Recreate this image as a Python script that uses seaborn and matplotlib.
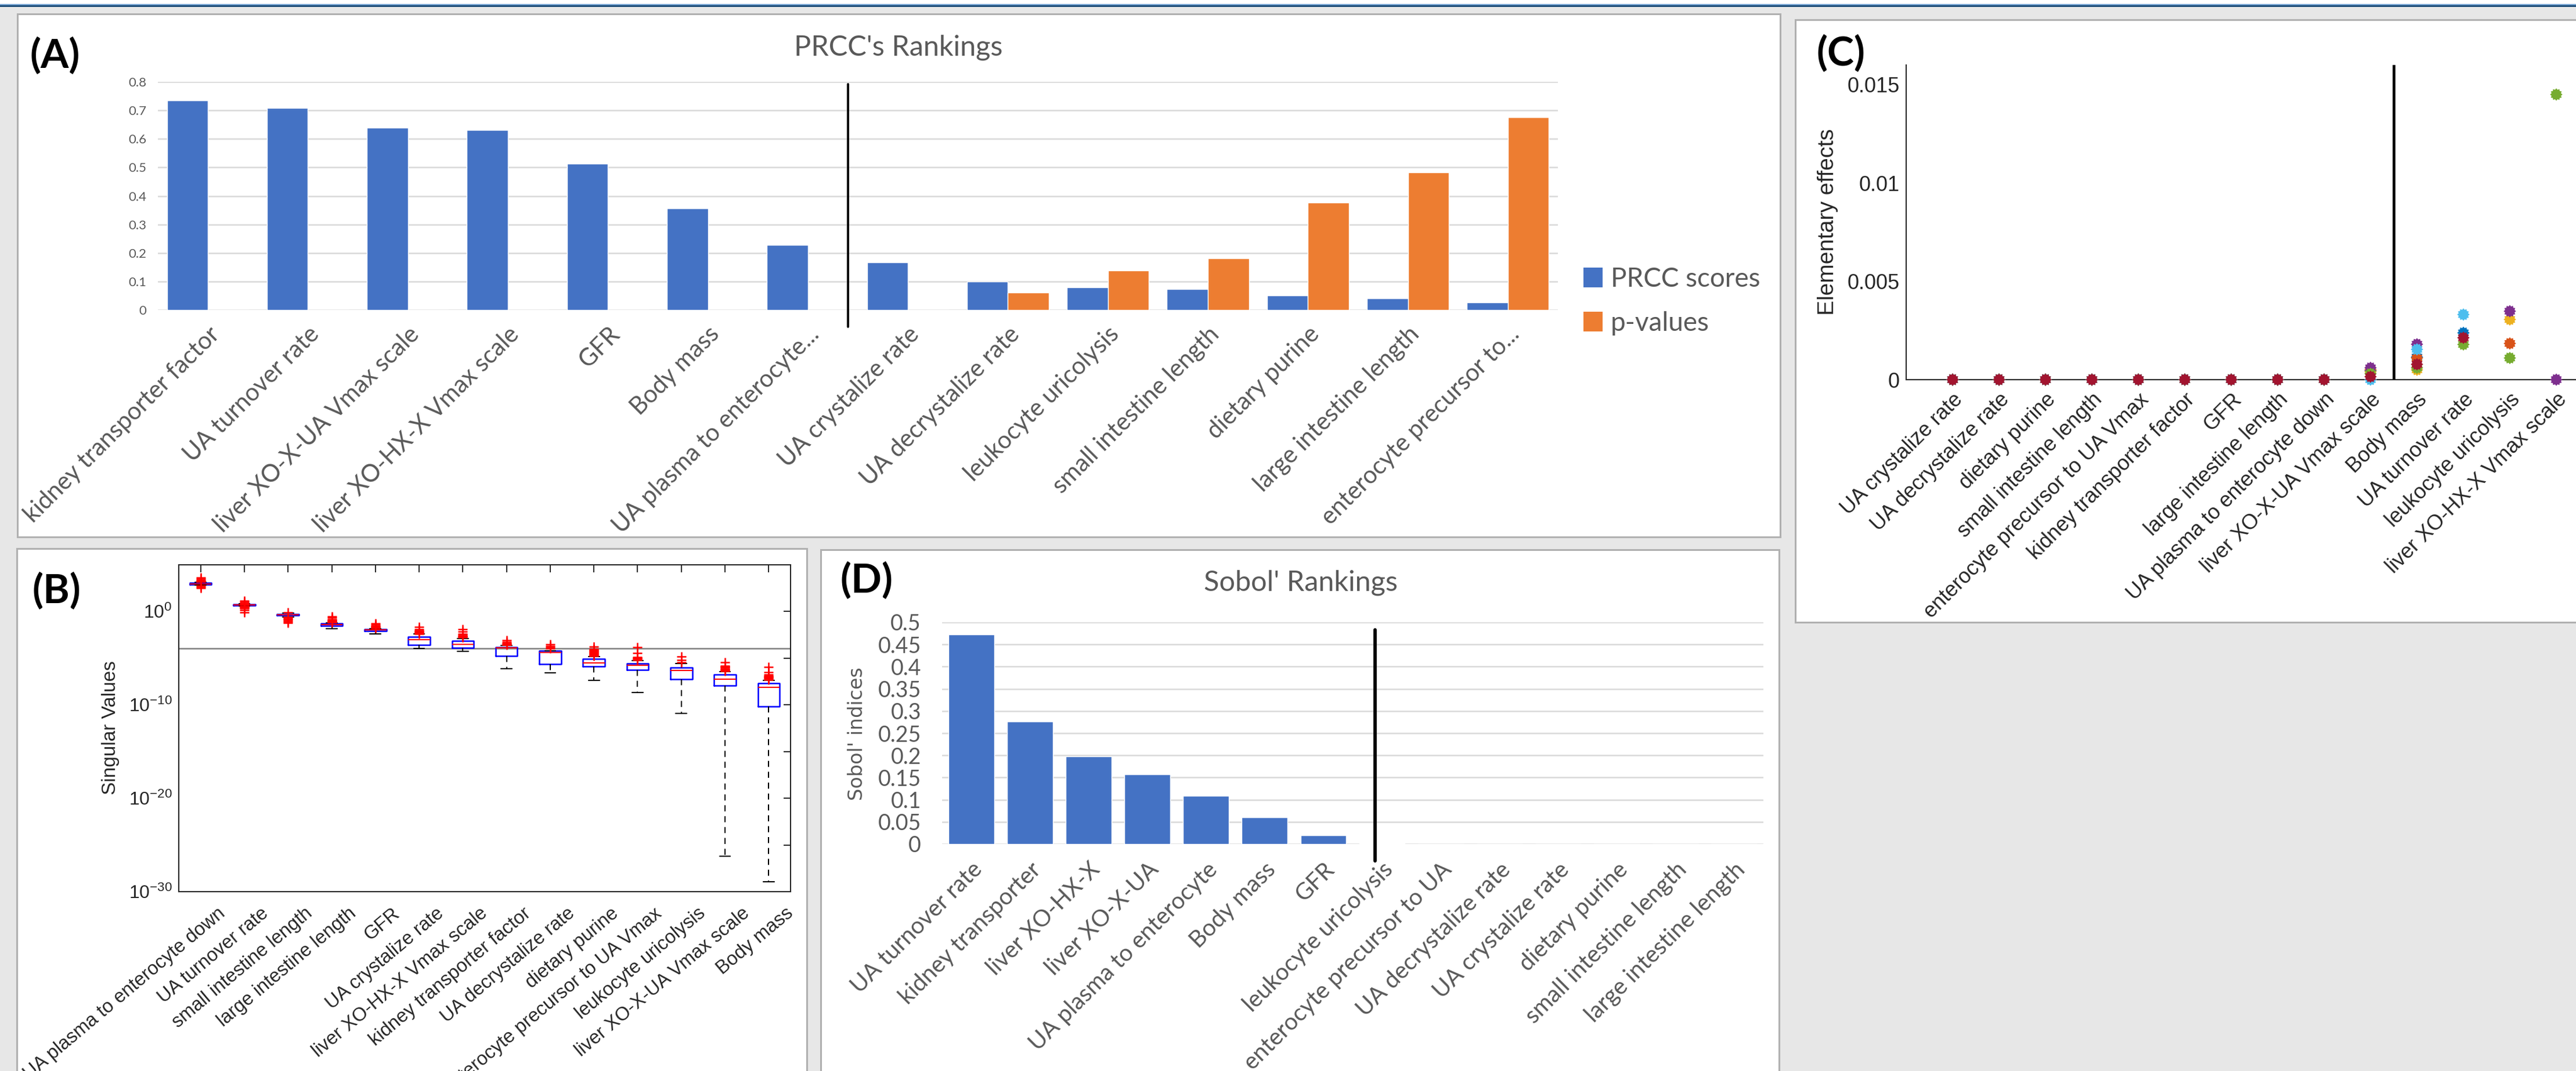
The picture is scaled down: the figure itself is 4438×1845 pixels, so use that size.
import numpy as np
import pandas as pd
import matplotlib
matplotlib.use("Agg")
import matplotlib.pyplot as plt
from matplotlib.patches import Rectangle, Patch
from matplotlib.path import Path
from matplotlib.ticker import NullLocator
from matplotlib.transforms import ScaledTranslation
import seaborn as sns

# ---------------- data ----------------
# (A) PRCC rankings
prcc_params = ["kidney transporter factor", "UA turnover rate", "liver XO-X-UA Vmax scale",
               "liver XO-HX-X Vmax scale", "GFR", "Body mass", "UA plasma to enterocyte...",
               "UA crystalize rate", "UA decrystalize rate", "leukocyte uricolysis",
               "small intestine length", "dietary purine", "large intestine length",
               "enterocyte precursor to..."]
prcc_scores = [0.735, 0.709, 0.640, 0.632, 0.512, 0.356, 0.227, 0.167,
               0.099, 0.080, 0.0725, 0.051, 0.041, 0.027]
prcc_pvalues = [0, 0, 0, 0, 0, 0, 0, 0, 0.062, 0.138, 0.182, 0.377, 0.482, 0.676]
prcc_ticks = [0, 0.1, 0.2, 0.3, 0.4, 0.5, 0.6, 0.7, 0.8]
prcc_ticklabels = ["0", "0.1", "0.2", "0.3", "0.4", "0.5", "0.6", "0.7", "0.8"]
prcc_split = 6.4

# (B) singular values (log10 of box statistics)
svd_params = ["UA plasma to enterocyte down", "UA turnover rate", "small intestine length",
              "large intestine length", "GFR", "UA crystalize rate", "liver XO-HX-X Vmax scale",
              "kidney transporter factor", "UA decrystalize rate", "dietary purine",
              "enterocyte precursor to UA Vmax", "leukocyte uricolysis",
              "liver XO-X-UA Vmax scale", "Body mass"]
svd_whislo = [2.78, 0.58, -0.6, -1.84, -2.4, -3.95, -4.3, -6.13, -6.58, -7.37, -8.71, -10.95, -26.2, -28.96]
svd_q1 = [2.86, 0.6, -0.43, -1.57, -2.09, -3.58, -3.9, -4.8, -5.67, -5.92, -6.25, -7.27, -7.95, -10.2]
svd_med = [2.95, 0.69, -0.37, -1.42, -1.98, -3.06, -3.54, -3.9, -4.41, -5.55, -5.76, -6.33, -7.27, -8.14]
svd_q3 = [3.06, 0.76, -0.33, -1.3, -1.9, -2.71, -3.17, -3.83, -4.22, -5.11, -5.57, -6.02, -6.79, -7.68]
svd_whishi = [3.1, 0.78, -0.2, -1.26, -1.88, -2.45, -2.9, -3.64, -4.2, -4.85, -5.25, -5.6, -6.45, -7.37]
svd_fliers = [
    [3.14, 3.18, 3.22, 3.26, 3.35, 3.45, 3.6, 2.72, 2.62, 2.5],
    [0.82, 0.9, 1.0, 1.12, 0.55, 0.5, 0.45, 0.4, 0.3, 0.15, -0.12],
    [-0.15, -0.65, -0.7, -0.8, -0.9, -1.0, -1.1, -1.22],
    [-1.2, -1.15, -1.1, -1.05, -1.0, -0.95, -0.85, -0.7, -0.54],
    [-1.82, -1.76, -1.7, -1.64, -1.55, -1.45, -1.3],
    [-2.42, -2.37, -2.32, -2.27, -2.22, -2.17, -2.1, -2.02, -1.9, -1.68],
    [-2.82, -2.76, -2.7, -2.64, -2.58, -2.5, -2.4, -2.2, -1.95],
    [-3.58, -3.52, -3.46, -3.4, -3.3, -3.1],
    [-3.95, -3.85, -3.7, -3.53],
    [-4.78, -4.72, -4.66, -4.6, -4.54, -4.48, -4.42, -4.36, -4.3, -4.24, -4.18, -4.12, -4.05, -3.79],
    [-5.2, -5.12, -5.04, -4.96, -4.9, -4.47, -3.88],
    [-5.45, -5.2, -4.85],
    [-6.4, -6.33, -6.26, -6.19, -6.12, -6.05, -5.98, -5.9, -5.82, -5.44],
    [-7.3, -7.23, -7.16, -7.09, -7.02, -6.95, -6.88, -6.8, -6.5, -5.98],
]
svd_threshold_exp = -4
svd_tick_exps = [-30, -25, -20, -15, -10, -5, 0]

# (C) elementary effects, one series per trajectory (NaN = no point)
ee_params = ["UA crystalize rate", "UA decrystalize rate", "dietary purine", "small intestine length",
             "enterocyte precursor to UA Vmax", "kidney transporter factor", "GFR",
             "large intestine length", "UA plasma to enterocyte down", "liver XO-X-UA Vmax scale",
             "Body mass", "UA turnover rate", "leukocyte uricolysis", "liver XO-HX-X Vmax scale"]
nan = np.nan
ee_traj1 = [0, 0, 0, 0, 0, 0, 0, 0, 0, 0.00045, 0.00115, 0.00238, nan, nan]
ee_traj2 = [0, 0, 0, 0, 0, 0, 0, 0, 0, 0.0005, 0.0011, nan, 0.00184, nan]
ee_traj3 = [0, 0, 0, 0, 0, 0, 0, 0, 0, 0.0004, 0.0005, nan, 0.00306, nan]
ee_traj4 = [0, 0, 0, 0, 0, 0, 0, 0, 0, 0.0006, 0.0018, nan, 0.00348, 0.0]
ee_traj5 = [0, 0, 0, 0, 0, 0, 0, 0, 0, 0.0003, 0.0006, 0.00179, 0.0011, 0.0145]
ee_traj6 = [0, 0, 0, 0, 0, 0, 0, 0, 0, 0.0, 0.00154, 0.00331, nan, nan]
ee_traj7 = [0, 0, 0, 0, 0, 0, 0, 0, 0, 0.00015, 0.00078, 0.00213, nan, nan]
ee_ticks = [0, 0.005, 0.01, 0.015]
ee_ticklabels = ["0", "0.005", "0.01", "0.015"]
ee_split = 10.5

# (D) Sobol' rankings
sobol_params = ["UA turnover rate", "kidney transporter", "liver XO-HX-X", "liver XO-X-UA",
                "UA plasma to enterocyte", "Body mass", "GFR", "leukocyte uricolysis",
                "enterocyte precursor to UA", "UA decrystalize rate", "UA crystalize rate",
                "dietary purine", "small intestine length", "large intestine length"]
sobol_indices = [0.472, 0.276, 0.197, 0.1565, 0.109, 0.060, 0.020, 0.0015, 0, 0, 0, 0, 0, 0]
sobol_ticks = [0, 0.05, 0.1, 0.15, 0.2, 0.25, 0.3, 0.35, 0.4, 0.45, 0.5]
sobol_ticklabels = ["0", "0.05", "0.1", "0.15", "0.2", "0.25", "0.3", "0.35", "0.4", "0.45", "0.5"]
sobol_split = 6.88

# ---------------- style ----------------
sns.set_theme(style="white")
plt.rcParams["font.family"] = ["Liberation Sans", "DejaVu Sans"]
plt.rcParams["mathtext.fontset"] = "custom"
plt.rcParams["mathtext.rm"] = "Liberation Sans"
plt.rcParams["mathtext.default"] = "regular"

XL_BLUE, XL_ORANGE, XL_TEXT = "#4472C4", "#ED7D31", "#595959"
ML_TEXT = "#262626"
ML_COLORS = ["#0072BD", "#D95319", "#EDB120", "#7E2F8E", "#77AC30", "#4DBEEE", "#A2142F"]
EXCEL_FONT = ["Lato", "DejaVu Sans"]

W, H, DPI = 4438, 1845, 100
fig = plt.figure(figsize=(W / DPI, H / DPI), dpi=DPI, facecolor="#e7e7e7")


def frac_rect(l, t, r, b):
    return [l / W, 1 - b / H, (r - l) / W, (b - t) / H]


def fig_rect(l, t, r, b, **kw):
    x, y, w, h = frac_rect(l, t, r, b)
    fig.add_artist(Rectangle((x, y), w, h, transform=fig.transFigure, **kw))


def fig_text(x, y, s, **kw):
    fig.text(x / W, 1 - y / H, s, **kw)


# window header strip and panel frames
fig_rect(0, 0, W, 8, facecolor="white", edgecolor="none", zorder=-2)
fig_rect(0, 7, W, 8.5, facecolor="#6f9fd0", edgecolor="none", zorder=-2)
fig_rect(0, 8.5, W, 11.5, facecolor="#1f4e79", edgecolor="none", zorder=-2)
frame = dict(facecolor="white", edgecolor="#b0b0b0", linewidth=2.2, zorder=-1)
fig_rect(30, 24, 3067, 925, **frame)        # A
fig_rect(29, 945, 1390, 1900, **frame)      # B
fig_rect(3093, 34, 4500, 1072, **frame)     # C
fig_rect(1414, 947, 3065, 1900, **frame)    # D

panel_font = dict(fontsize=50, fontweight="bold", family=EXCEL_FONT, color="black",
                  ha="left", va="center")
fig_text(52, 96, "(A)", **panel_font)
fig_text(56, 1018, "(B)", **panel_font)
fig_text(3130, 93, "(C)", **panel_font)
fig_text(1448, 1000, "(D)", **panel_font)


def excel_axes(ax):
    ax.set_facecolor("none")
    for s in ax.spines.values():
        s.set_visible(False)
    ax.yaxis.grid(True, color="#d9d9d9", linewidth=1.8)
    ax.xaxis.grid(False)
    ax.set_axisbelow(True)
    ax.tick_params(length=0)
    ax.set_xlabel("")
    ax.set_ylabel("")


# ---------------- (A) PRCC ----------------
axA = fig.add_axes(frac_rect(272, 141, 2684, 534))
dfA = pd.DataFrame({
    "param": prcc_params * 2,
    "value": prcc_scores + prcc_pvalues,
    "measure": ["PRCC scores"] * len(prcc_params) + ["p-values"] * len(prcc_params),
})
sns.barplot(data=dfA, x="param", y="value", hue="measure", palette=[XL_BLUE, XL_ORANGE],
            saturation=1, width=0.82, ax=axA, legend=False, errorbar=None)
excel_axes(axA)
axA.set_xlim(-0.5, len(prcc_params) - 0.5)
axA.set_ylim(0, 0.8)
axA.set_yticks(prcc_ticks)
axA.set_yticklabels(prcc_ticklabels, fontsize=16, color=XL_TEXT, family=EXCEL_FONT)
axA.set_xticks(range(len(prcc_params)))
axA.set_xticklabels(prcc_params, rotation=45, ha="right", rotation_mode="anchor",
                    fontsize=30, color=XL_TEXT, family=EXCEL_FONT)
axA.tick_params(axis="x", pad=16)
axA.tick_params(axis="y", pad=14)
axA.plot([prcc_split, prcc_split], [-0.059, 0.792], color="black", lw=2.8,
         clip_on=False, zorder=5)
fig_text(1548, 95, "PRCC's Rankings", fontsize=35, color=XL_TEXT, family=EXCEL_FONT,
         ha="center", va="baseline")
axA.legend(handles=[Patch(facecolor=XL_BLUE, edgecolor="none"),
                    Patch(facecolor=XL_ORANGE, edgecolor="none")],
           labels=["PRCC scores", "p-values"], loc="center left",
           bbox_to_anchor=(2728 / W, 1 - 519 / H), bbox_transform=fig.transFigure,
           frameon=False, prop={"family": EXCEL_FONT, "size": 33},
           labelcolor=XL_TEXT, handlelength=0.72, handleheight=0.76,
           handletextpad=0.3, labelspacing=0.75, borderpad=0, borderaxespad=0)

# ---------------- (B) singular values ----------------
axB = fig.add_axes(frac_rect(308, 972.5, 1362, 1536))
axB.set_facecolor("none")
stats = []
for i in range(len(svd_params)):
    stats.append({
        "whislo": 10.0 ** svd_whislo[i], "q1": 10.0 ** svd_q1[i], "med": 10.0 ** svd_med[i],
        "q3": 10.0 ** svd_q3[i], "whishi": 10.0 ** svd_whishi[i],
        "fliers": 10.0 ** np.array(svd_fliers[i]),
    })
positions = np.arange(1, len(svd_params) + 1)
axB.set_yscale("log")
axB.bxp(stats, positions=positions, widths=0.5, showfliers=True,
        boxprops=dict(color="#0000ff", linewidth=1.8),
        medianprops=dict(color="#ff0000", linewidth=1.5),
        whiskerprops=dict(color="black", linewidth=1.5, linestyle=(0, (5, 4))),
        capprops=dict(color="black", linewidth=1.5),
        flierprops=dict(marker="+", markeredgecolor="#ff0000", markersize=12,
                        markeredgewidth=1.8, linestyle="none"))
axB.axhline(10.0 ** svd_threshold_exp, color="#808080", lw=1.8, zorder=0.5)
axB.set_ylim(1e-30, 1e5)
axB.set_xlim(0.5, len(svd_params) + 0.5)
axB.yaxis.set_minor_locator(NullLocator())
axB.set_yticks([10.0 ** k for k in svd_tick_exps])
axB.set_yticklabels([r"$10^{%d}$" % k if k % 10 == 0 else "" for k in svd_tick_exps],
                    fontsize=23, color=ML_TEXT)
axB.set_xticks(positions)
axB.set_xticklabels([])
# category names sit just right of and below each tick, rotated 40 degrees
b_offset = axB.get_xaxis_transform() + ScaledTranslation(28 / DPI, -22 / DPI, fig.dpi_scale_trans)
for pos, name in zip(positions, svd_params):
    axB.text(pos, 0, name, transform=b_offset, rotation=40, ha="right", va="top",
             rotation_mode="anchor", fontsize=23.5, color=ML_TEXT, clip_on=False)
axB.tick_params(axis="both", which="both", direction="in", top=True, right=True,
                length=9, width=1.4, color=ML_TEXT)
axB.tick_params(axis="y", pad=8)
for s in axB.spines.values():
    s.set_color(ML_TEXT)
    s.set_linewidth(1.5)
fig_text(190, 1254, "Singular Values", fontsize=24, color=ML_TEXT, rotation=90,
         ha="center", va="center")

# ---------------- (C) elementary effects ----------------
axC = fig.add_axes(frac_rect(3284, 112, 4484, 654))
axC.set_facecolor("none")
traj_values = [ee_traj1, ee_traj2, ee_traj3, ee_traj4, ee_traj5, ee_traj6, ee_traj7]
dfC = pd.DataFrame({
    "pos": np.tile(np.arange(1, len(ee_params) + 1), len(traj_values)),
    "ee": np.concatenate([np.asarray(v, dtype=float) for v in traj_values]),
    "traj": np.repeat([f"r{k + 1}" for k in range(len(traj_values))], len(ee_params)),
}).dropna()
blob = Path.unit_regular_star(12, innerCircle=0.78)
sns.scatterplot(data=dfC, x="pos", y="ee", hue="traj", palette=ML_COLORS, marker=blob,
                s=240, linewidth=0, legend=False, ax=axC, clip_on=False, zorder=3)
axC.set_xlim(0, len(ee_params) + 1)
axC.set_ylim(0, 0.016)
axC.plot([ee_split, ee_split], [0, 0.016], color="black", lw=3.4, zorder=4)
for side in ("top", "right"):
    axC.spines[side].set_visible(False)
for side in ("left", "bottom"):
    axC.spines[side].set_color(ML_TEXT)
    axC.spines[side].set_linewidth(1.5)
axC.set_yticks(ee_ticks)
axC.set_yticklabels(ee_ticklabels, fontsize=26, color=ML_TEXT)
axC.set_xticks(np.arange(1, len(ee_params) + 1))
axC.set_xticklabels(ee_params, rotation=45, ha="right", rotation_mode="anchor",
                    fontsize=26, color=ML_TEXT)
axC.tick_params(axis="both", direction="in", length=10, width=1.4, color=ML_TEXT)
axC.tick_params(axis="x", pad=12)
axC.tick_params(axis="y", pad=8)
axC.set_xlabel("")
axC.set_ylabel("")
fig_text(3149, 382, "Elementary effects", fontsize=28, color=ML_TEXT, rotation=90,
         ha="center", va="center")

# ---------------- (D) Sobol' ----------------
axD = fig.add_axes(frac_rect(1623, 1072, 3038, 1454))
dfD = pd.DataFrame({"param": sobol_params, "index": sobol_indices})
sns.barplot(data=dfD, x="param", y="index", color=XL_BLUE, saturation=1, width=0.78,
            ax=axD, errorbar=None)
excel_axes(axD)
axD.set_xlim(-0.5, len(sobol_params) - 0.5)
axD.set_ylim(0, 0.5)
axD.set_yticks(sobol_ticks)
axD.set_yticklabels(sobol_ticklabels, fontsize=27, color=XL_TEXT, family=EXCEL_FONT)
axD.set_xticks(range(len(sobol_params)))
axD.set_xticklabels(sobol_params, rotation=45, ha="right", rotation_mode="anchor",
                    fontsize=29, color=XL_TEXT, family=EXCEL_FONT)
axD.tick_params(axis="x", pad=18)
axD.tick_params(axis="y", pad=26)
axD.plot([sobol_split, sobol_split], [-0.038, 0.483], color="black", lw=4.2,
         clip_on=False, zorder=5)
fig_text(2241, 1017, "Sobol' Rankings", fontsize=35, color=XL_TEXT, family=EXCEL_FONT,
         ha="center", va="baseline")
fig_text(1477, 1264, "Sobol' indices", fontsize=24, color=XL_TEXT, rotation=90,
         family=["DejaVu Sans"], ha="center", va="center")

fig.savefig("out.png", dpi=DPI, facecolor=fig.get_facecolor())
